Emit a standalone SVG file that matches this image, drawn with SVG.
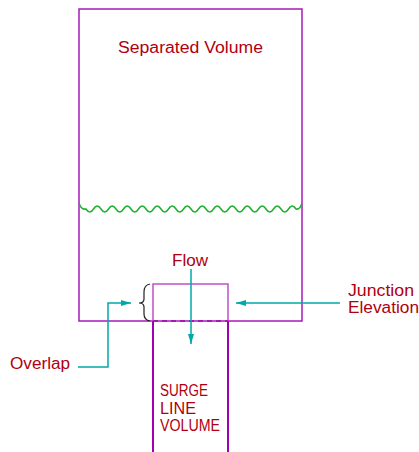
<svg xmlns="http://www.w3.org/2000/svg" width="419" height="452" viewBox="0 0 419 452">
<style>
.lbl{font-family:"Liberation Sans","DejaVu Sans",sans-serif;font-size:16px;fill:#b00010}
.mag{fill:none;stroke:#a818b8;stroke-width:1.5}
.magL{fill:none;stroke:#c050c8;stroke-width:1.5}
.cn{fill:none;stroke:#00a8a8;stroke-width:1.5}
</style>
<defs>
<marker id="ah" viewBox="0 0 10 6" refX="10" refY="3" markerWidth="10" markerHeight="6" markerUnits="userSpaceOnUse" orient="auto">
<path d="M0,0 L10,3 L0,6 Z" fill="#00a8a8"/>
</marker>
</defs>
<rect width="419" height="452" fill="#ffffff"/>
<g id="separated-volume">
<rect class="mag" x="79" y="9" width="223" height="312"/>
<path d="M79,203 Q81,210 86,209 q3.75,6 7.5,0 t7.5,0 t7.5,0 t7.5,0 t7.5,0 t7.5,0 t7.5,0 t7.5,0 t7.5,0 t7.5,0 t7.5,0 t7.5,0 t7.5,0 t7.5,0 t7.5,0 t7.5,0 t7.5,0 t7.5,0 t7.5,0 t7.5,0 t7.5,0 t7.5,0 t7.5,0 t7.5,0 t7.5,0 t7.5,0 t7.5,0 t7.5,0 Q300,210 302,203" fill="none" stroke="#20b030" stroke-width="1.5"/>
<text class="lbl" x="118" y="53" textLength="145" lengthAdjust="spacingAndGlyphs">Separated Volume</text>
</g>
<g id="surge-line">
<path class="magL" d="M153,321 V284 H228 V321"/>
<path d="M153,321 V452 M228,321 V452" fill="none" stroke="#a000b0" stroke-width="2"/>
<path d="M153,321 H228" fill="none" stroke="#a818b8" stroke-width="2" stroke-dasharray="5,4"/>
<text class="lbl" x="160" y="396" textLength="48" lengthAdjust="spacingAndGlyphs">SURGE</text>
<text class="lbl" x="160" y="414" textLength="36" lengthAdjust="spacingAndGlyphs">LINE</text>
<text class="lbl" x="160" y="431" textLength="60" lengthAdjust="spacingAndGlyphs">VOLUME</text>
</g>
<g id="brace">
<path d="M150,284 Q144,285 144,292 L144,299 Q144,303 139,303 Q144,303 144,307 L144,314 Q144,320 150,321" fill="none" stroke="#202020" stroke-width="1.2"/>
</g>
<g id="labels">
<text class="lbl" x="172" y="266" textLength="36" lengthAdjust="spacingAndGlyphs">Flow</text>
<text class="lbl" x="10" y="369" textLength="60" lengthAdjust="spacingAndGlyphs">Overlap</text>
<text class="lbl" x="348" y="296" textLength="66" lengthAdjust="spacingAndGlyphs">Junction</text>
<text class="lbl" x="348" y="313" textLength="71" lengthAdjust="spacingAndGlyphs">Elevation</text>
</g>
<g id="connectors">
<path class="cn" d="M191,269 V344" marker-end="url(#ah)"/>
<path class="cn" d="M78,367 H108 V303 H131" marker-end="url(#ah)"/>
<path class="cn" d="M340,303 H236" marker-end="url(#ah)"/>
</g>
</svg>
